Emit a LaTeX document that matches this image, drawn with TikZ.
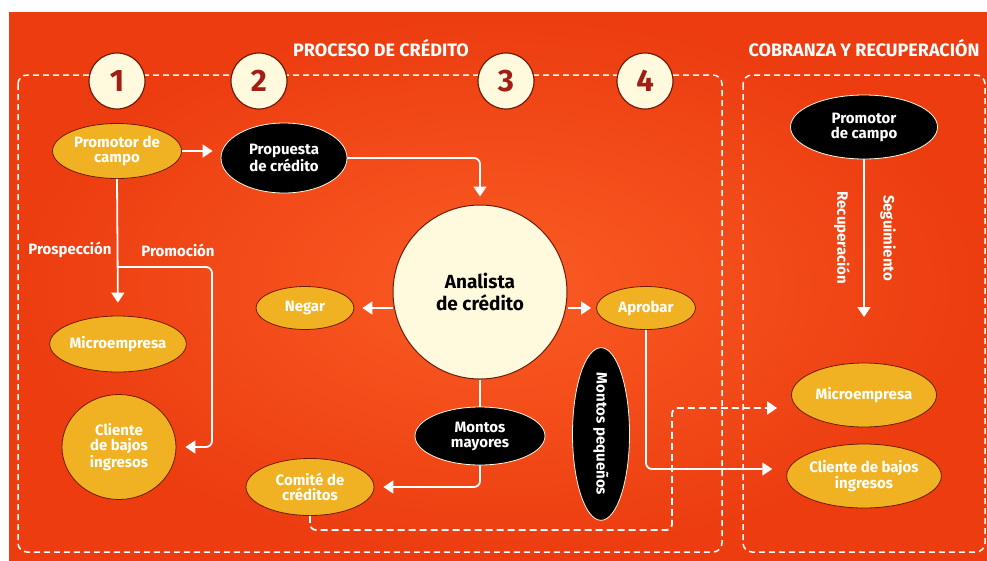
\documentclass[tikz,border=0pt]{standalone}
\usepackage{fontspec}
\setmainfont{Fira Sans}
\usetikzlibrary{arrows.meta,shapes.geometric}

\definecolor{fondo}{RGB}{236,60,16}
\definecolor{fondoclaro}{RGB}{250,92,36}
\definecolor{amarillo}{RGB}{240,178,34}
\definecolor{crema}{RGB}{255,249,222}
\definecolor{borde}{RGB}{110,28,8}
\definecolor{rojo}{RGB}{160,30,20}

\tikzstyle{zona}=[draw=white,line width=1.5pt,dash pattern=on 6pt off 4pt,rounded corners=9pt]
\tikzstyle{paso}=[circle,fill=crema,draw=borde,line width=1.2pt,minimum size=56pt,inner sep=0pt,text=rojo,font=\fontsize{31}{31}\selectfont\bfseries]
\tikzstyle{amarilla}=[ellipse,fill=amarillo,draw=borde,line width=0.8pt,inner sep=0pt,text=white,align=center,font=\fontsize{15}{15}\selectfont\bfseries]
\tikzstyle{negra}=[amarilla,fill=black,draw=crema]
\tikzstyle{analista}=[circle,fill=crema,draw=borde,line width=1pt,minimum size=174pt,inner sep=0pt,align=center,font=\fontsize{19}{22}\selectfont\bfseries]
\tikzstyle{titulo}=[text=white,font=\fontsize{18}{18}\selectfont\bfseries]
\tikzstyle{etiqueta}=[text=white,font=\fontsize{15}{15}\selectfont\bfseries]
\tikzstyle{linea}=[draw=white,line width=1.8pt,rounded corners=6pt]
\tikzstyle{flecha}=[linea,-{Triangle[length=10pt,width=13pt]}]
\tikzstyle{flecha punteada}=[flecha,dash pattern=on 7pt off 4pt]

\begin{document}
\begin{tikzpicture}[x=1pt,y=-1pt]
	\useasboundingbox (0,0) rectangle (987,560);
	\shade[inner color=fondoclaro,outer color=fondo] (9,12) rectangle (987,560);
	% the two dashed zones
	\draw[zona] (18,75) rectangle (722,552);
	\draw[zona] (743,75) rectangle (985,552);
	\node[titulo] (proceso) at (381,48) {PROCESO DE CRÉDITO};
	\node[titulo] (cobranza) at (864,48) {COBRANZA Y RECUPERACIÓN};
	\foreach \n/\x in {1/117,2/259,3/506,4/645}
		\node[paso] (paso\n) at (\x,81) {\n};

	% proceso de credito
	\node[amarilla,minimum width=129pt,minimum height=55pt] (promotor) at (117,151) {Promotor de\\campo};
	\node[negra,minimum width=126pt,minimum height=70pt] (propuesta) at (284,158) {Propuesta\\de crédito};
	\node[analista] (analista) at (480,292) {Analista\\de crédito};
	\node[amarilla,minimum width=98pt,minimum height=43pt] (negar) at (305,308) {Negar};
	\node[amarilla,minimum width=99pt,minimum height=43pt] (aprobar) at (646,308) {Aprobar};
	\node[negra,minimum width=130pt,minimum height=58pt] (mayores) at (480,436) {Montos\\mayores};
	\node[amarilla,minimum width=128pt,minimum height=57pt] (comite) at (310,487) {Comité de\\créditos};
	\node[negra,rotate=-90,minimum width=172pt,minimum height=57pt] (pequenos) at (601,434) {Montos pequeños};
	\node[amarilla,minimum width=129pt,minimum height=56pt] (micro) at (118,344) {Microempresa};
	\node[amarilla,minimum width=114pt,minimum height=105pt] (cliente) at (119,447) {Cliente\\de bajos\\ingresos};
	\node[etiqueta] (prospeccion) at (70,250) {Prospección};
	\node[etiqueta] (promocion) at (178,250) {Promoción};

	% cobranza y recuperacion
	\node[negra,minimum width=147pt,minimum height=64pt] (promotor2) at (864,127) {Promotor\\de campo};
	\node[amarilla,minimum width=145pt,minimum height=64pt] (micro2) at (864,395) {Microempresa};
	\node[amarilla,minimum width=145pt,minimum height=64pt] (cliente2) at (864,476) {Cliente de bajos\\ingresos};
	\node[etiqueta,rotate=-90] (recuperacion) at (842,238) {Recuperación};
	\node[etiqueta,rotate=-90] (seguimiento) at (888,238) {Seguimiento};

	\coordinate (rama) at (117,267);
	\coordinate (giro) at (212,267);
	\coordinate (baja) at (310,530);
	\coordinate (sube) at (672,530);
	\coordinate (punta) at (864,317);

	% Connect nodes with arrows
	\draw[flecha,shorten >=8pt] (promotor.east) -- (promotor.east -| propuesta.west);
	\draw[flecha,shorten >=8pt] (propuesta.east) -| (analista.north);
	\draw[flecha,shorten >=13pt] (promotor.south) -- (micro.north);
	\draw[flecha,shorten >=9pt] (rama) -- (giro) |- (cliente.east);
	\draw[flecha,shorten >=8pt] (analista.west |- negar.east) -- (negar.east);
	\draw[flecha,shorten >=5pt] (analista.east |- aprobar.west) -- (aprobar.west);
	\draw[linea] (analista.south) -- (mayores.north);
	\draw[flecha,shorten >=9pt] (mayores.south) |- (comite.east);
	\draw[flecha,shorten >=14pt] (aprobar.south) |- ([yshift=7pt]cliente2.west);
	\draw[flecha punteada,shorten >=14pt] (comite.south) -- (baja) -- (sube) |- ([yshift=-13pt]micro2.west);
	\draw[flecha] (promotor2.south) -- (punta);
\end{tikzpicture}
\end{document}
